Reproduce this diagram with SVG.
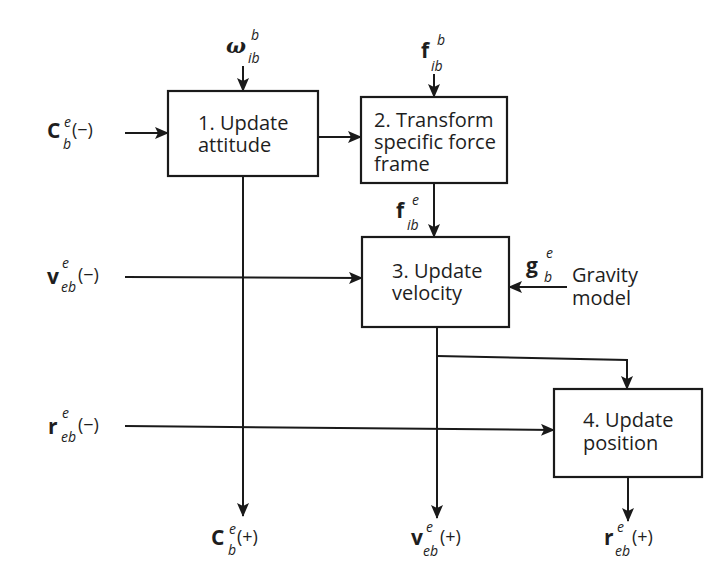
<svg xmlns="http://www.w3.org/2000/svg" width="709" height="585" viewBox="0 0 709 585">
  <defs>
    <marker id="arrow" markerUnits="userSpaceOnUse" markerWidth="14" markerHeight="12" refX="13" refY="6" orient="auto">
      <path d="M0,0 L14,6 L0,12 L3,6 z" fill="#1a1a1a"/>
    </marker>
    <style>
      .box { fill: #ffffff; stroke: #1a1a1a; stroke-width: 2.2; }
      .wire { fill: none; stroke: #1a1a1a; stroke-width: 2; }
      text { font-family: "Open Sans", "Liberation Sans", sans-serif; fill: #1e1e1e; }
      .txt { font-size: 20px; }
      .lbl { font-size: 18px; }
      .sym { font-size: 21px; font-weight: bold; }
      .sc { font-size: 14px; font-style: italic; }
      .omega { font-family: "DejaVu Serif", "Liberation Serif", serif; font-size: 21px; font-weight: bold; font-style: italic; }
    </style>
  </defs>
  <rect width="709" height="585" fill="#ffffff"/>

  <!-- connectors -->
  <g id="connectors">
    <line class="wire" x1="243" y1="66" x2="243" y2="91" marker-end="url(#arrow)"/>
    <line class="wire" x1="125" y1="133" x2="168" y2="133" marker-end="url(#arrow)"/>
    <line class="wire" x1="318" y1="137" x2="361" y2="137" marker-end="url(#arrow)"/>
    <line class="wire" x1="434" y1="74" x2="434" y2="97" marker-end="url(#arrow)"/>
    <line class="wire" x1="434" y1="183" x2="434" y2="237" marker-end="url(#arrow)"/>
    <line class="wire" x1="243" y1="176" x2="243" y2="516" marker-end="url(#arrow)"/>
    <line class="wire" x1="125" y1="277" x2="362" y2="278" marker-end="url(#arrow)"/>
    <line class="wire" x1="567" y1="287" x2="509" y2="287" marker-end="url(#arrow)"/>
    <line class="wire" x1="125" y1="426" x2="554" y2="430" marker-end="url(#arrow)"/>
    <line class="wire" x1="437" y1="327" x2="437" y2="518" marker-end="url(#arrow)"/>
    <polyline class="wire" points="437,356 627,360 627,389" marker-end="url(#arrow)"/>
    <line class="wire" x1="628" y1="477" x2="628" y2="521" marker-end="url(#arrow)"/>
  </g>

  <!-- 1. Update attitude -->
  <g id="node-attitude">
    <rect class="box" x="168" y="91" width="150" height="85"/>
    <text class="txt" x="198" y="130">1. Update<tspan x="198" y="152">attitude</tspan></text>
  </g>

  <!-- 2. Transform specific force frame -->
  <g id="node-transform">
    <rect class="box" x="361" y="97" width="146" height="86"/>
    <text class="txt" x="374" y="127">2. Transform<tspan x="374" y="149">specific force</tspan><tspan x="374" y="171">frame</tspan></text>
  </g>

  <!-- 3. Update velocity -->
  <g id="node-velocity">
    <rect class="box" x="362" y="237" width="147" height="90"/>
    <text class="txt" x="392" y="278">3. Update<tspan x="392" y="300">velocity</tspan></text>
  </g>

  <!-- 4. Update position -->
  <g id="node-position">
    <rect class="box" x="554" y="389" width="148" height="88"/>
    <text class="txt" x="583" y="427">4. Update<tspan x="583" y="450">position</tspan></text>
  </g>

  <!-- Gravity model -->
  <g id="node-gravity">
    <text class="txt" x="572" y="282">Gravity<tspan x="572" y="305">model</tspan></text>
  </g>

  <!-- signal labels: base symbol, superscript, subscript, then (±) -->
  <g id="labels">
    <text><tspan class="omega" x="226" y="53">ω</tspan><tspan class="sc" x="251" y="40">b</tspan><tspan class="sc" x="248" y="63">ib</tspan></text>

    <text><tspan class="sym" x="421" y="58">f</tspan><tspan class="sc" x="437" y="45">b</tspan><tspan class="sc" x="431" y="71">ib</tspan></text>

    <text><tspan class="sym" x="396" y="218">f</tspan><tspan class="sc" x="412" y="205">e</tspan><tspan class="sc" x="407" y="230">ib</tspan></text>

    <text><tspan class="sym" x="526" y="273">g</tspan><tspan class="sc" x="546" y="258">e</tspan><tspan class="sc" x="544" y="282">b</tspan></text>

    <text><tspan class="sym" x="47" y="138">C</tspan><tspan class="sc" x="64" y="127">e</tspan><tspan class="sc" x="63" y="149">b</tspan><tspan class="lbl" x="72" y="136">(−)</tspan></text>

    <text><tspan class="sym" x="47" y="284">v</tspan><tspan class="sc" x="62" y="268">e</tspan><tspan class="sc" x="61" y="292">eb</tspan><tspan class="lbl" x="78" y="281">(−)</tspan></text>

    <text><tspan class="sym" x="48" y="434">r</tspan><tspan class="sc" x="62" y="418">e</tspan><tspan class="sc" x="61" y="442">eb</tspan><tspan class="lbl" x="78" y="431">(−)</tspan></text>

    <text><tspan class="sym" x="211" y="545">C</tspan><tspan class="sc" x="229" y="534">e</tspan><tspan class="sc" x="228" y="555">b</tspan><tspan class="lbl" x="237" y="543">(+)</tspan></text>

    <text><tspan class="sym" x="411" y="545">v</tspan><tspan class="sc" x="426" y="532">e</tspan><tspan class="sc" x="423" y="556">eb</tspan><tspan class="lbl" x="440" y="543">(+)</tspan></text>

    <text><tspan class="sym" x="604" y="545">r</tspan><tspan class="sc" x="617" y="532">e</tspan><tspan class="sc" x="615" y="556">eb</tspan><tspan class="lbl" x="632" y="543">(+)</tspan></text>
  </g>
</svg>
